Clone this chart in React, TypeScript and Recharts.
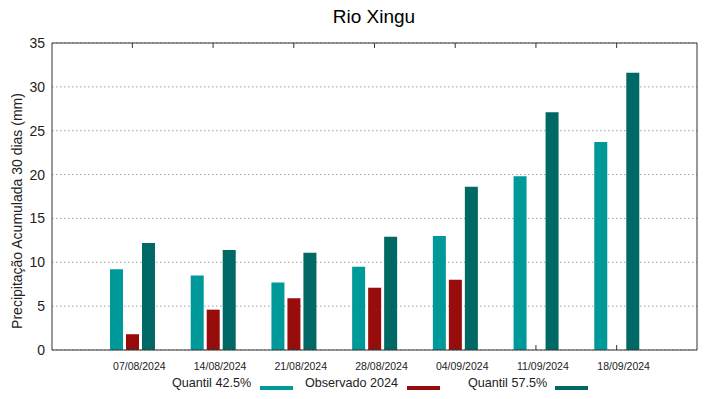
import React from 'react';
import { BarChart, Bar, XAxis, YAxis, CartesianGrid } from 'recharts';

const categories = ['07/08/2024', '14/08/2024', '21/08/2024', '28/08/2024', '04/09/2024', '11/09/2024', '18/09/2024'];
const quantil425 = [9.2, 8.5, 7.7, 9.5, 13.0, 19.8, 23.7];
const observado2024: (number | null)[] = [1.8, 4.6, 5.9, 7.1, 8.0, null, null];
const quantil575 = [12.2, 11.4, 11.1, 12.9, 18.6, 27.1, 31.6];
const yTicks = [0, 5, 10, 15, 20, 25, 30, 35];

const seriesInfo = [
  { key: 'q425', name: 'Quantil 42.5%', color: '#009999' },
  { key: 'obs', name: 'Observado 2024', color: '#990c0c' },
  { key: 'q575', name: 'Quantil 57.5%', color: '#006865' },
];

const data = categories.map((c, i) => ({
  date: c,
  q425: quantil425[i],
  obs: observado2024[i],
  q575: quantil575[i],
}));

const FONT = '"Liberation Sans", Arial, sans-serif';
const AXIS = '#333333';

const BottomTick = (props: any) => {
  const { x, y, payload } = props;
  return (
    <g>
      <line x1={x} x2={x} y1={y} y2={y - 5} stroke={AXIS} strokeWidth={1} />
      <text x={x + 7} y={y + 20} textAnchor="middle" fontSize={10.5} fill="#222" fontFamily={FONT}>
        {payload.value}
      </text>
    </g>
  );
};

const TopTick = (props: any) => {
  const { x, y } = props;
  return <line x1={x} x2={x} y1={y} y2={y + 5} stroke={AXIS} strokeWidth={1} />;
};

const RightTick = (props: any) => {
  const { x, y } = props;
  return <line x1={x} x2={x - 5} y1={y} y2={y} stroke={AXIS} strokeWidth={1} />;
};

const legendPos = [
  { textLeft: 172, swatchLeft: 260 },
  { textLeft: 305, swatchLeft: 407 },
  { textLeft: 468, swatchLeft: 555 },
];

export default function App() {
  return (
    <div style={{ position: 'absolute', left: 0, top: 0, width: 719, height: 399, background: '#fff', fontFamily: FONT }}>
      <BarChart
        width={719}
        height={399}
        data={data}
        margin={{ top: 42, right: 21, bottom: 19, left: 0 }}
        barSize={13}
        barGap={3}
      >
        <CartesianGrid vertical={false} stroke="#a0a0a0" strokeDasharray="1.5 2.5" />
        <XAxis
          dataKey="date"
          height={30}
          tickSize={0}
          tickMargin={0}
          tick={<BottomTick />}
          axisLine={{ stroke: AXIS }}
          tickLine={false}
          padding={{ left: 40, right: 40 }}
          interval={0}
        />
        <XAxis
          xAxisId="top"
          dataKey="date"
          orientation="top"
          height={1}
          tickSize={0}
          tickMargin={0}
          tick={<TopTick />}
          axisLine={{ stroke: AXIS }}
          tickLine={false}
          padding={{ left: 40, right: 40 }}
          interval={0}
        />
        <YAxis
          width={52}
          domain={[0, 35]}
          ticks={yTicks}
          tickSize={0}
          tickMargin={7}
          tick={{ fontSize: 14, fill: '#222', fontFamily: FONT }}
          axisLine={{ stroke: AXIS }}
          tickLine={false}
          interval={0}
        />
        <YAxis
          yAxisId="right"
          orientation="right"
          width={1}
          domain={[0, 35]}
          ticks={yTicks}
          tickSize={0}
          tickMargin={0}
          tick={<RightTick />}
          axisLine={{ stroke: AXIS }}
          tickLine={false}
          interval={0}
        />
        {seriesInfo.map((s) => (
          <Bar key={s.key} dataKey={s.key} name={s.name} fill={s.color} isAnimationActive={false} />
        ))}
      </BarChart>

      <div
        style={{
          position: 'absolute',
          left: 274,
          width: 200,
          top: 7,
          textAlign: 'center',
          fontSize: 19,
          lineHeight: '19px',
          color: '#000',
        }}
      >
        Rio Xingu
      </div>

      <div
        style={{
          position: 'absolute',
          left: 17 - 150,
          top: 211 - 8,
          width: 300,
          height: 16,
          lineHeight: '16px',
          textAlign: 'center',
          fontSize: 14,
          color: '#222',
          transform: 'rotate(-90deg)',
          transformOrigin: '50% 50%',
          whiteSpace: 'nowrap',
        }}
      >
        Precipitação Acumulada 30 dias (mm)
      </div>

      {seriesInfo.map((s, i) => (
        <React.Fragment key={s.key}>
          <div
            style={{
              position: 'absolute',
              left: legendPos[i].textLeft,
              top: 377,
              fontSize: 12.6,
              lineHeight: '13px',
              color: '#222',
              whiteSpace: 'nowrap',
            }}
          >
            {s.name}
          </div>
          <div
            style={{
              position: 'absolute',
              left: legendPos[i].swatchLeft,
              top: 386,
              width: 33,
              height: 4,
              background: s.color,
            }}
          />
        </React.Fragment>
      ))}
    </div>
  );
}
